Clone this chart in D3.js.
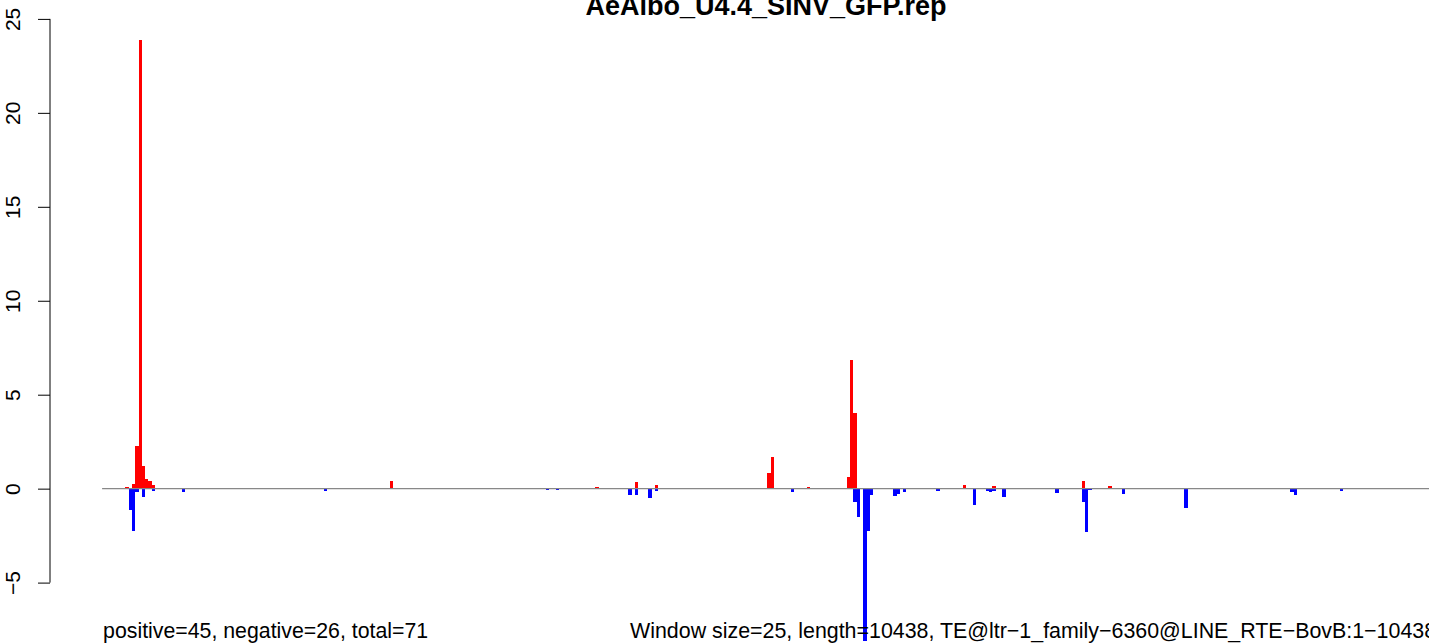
<!DOCTYPE html>
<meta charset="utf-8">
<script src="https://cdn.jsdelivr.net/npm/d3@7"></script>
<style>
body { margin: 0; background: #fff; }
text { font-family: "Liberation Sans", Arial, Helvetica, sans-serif; fill: #000; }
</style>
<body>
<script>

var width = 1429
var height = 643

var title = "AeAlbo_U4.4_SINV_GFP.rep"
var windowSize = 25
var teLength = 10438
var footLeft = "positive=45, negative=26, total=71"
var footRight = "Window size=25, length=10438, TE@ltr\u22121_family\u22126360@LINE_RTE\u2212BovB:1\u221210438"

var yTicks = [-5, 0, 5, 10, 15, 20, 25]

// window index of each bar, and its value (sense = red, antisense = blue)
var posWin = [7, 9, 10, 11, 12, 13, 14, 15, 87, 135, 140, 149, 161, 167, 201, 202, 203, 212, 213, 225, 226, 227, 260, 269, 296, 300, 304]
var posVal = [0.1, 0.27, 2.27, 23.9, 1.22, 0.5, 0.4, 0.2, 0.41, 0.05, 0.05, 0.09, 0.35, 0.2, 0.85, 1.7, 0.05, 0.05, 0.1, 0.6, 6.83, 4.02, 0.2, 0.15, 0.42, 0.05, 0.16]

var negWin = [8, 9, 10, 12, 15, 24, 67, 134, 137, 159, 161, 165, 167, 208, 227, 228, 230, 231, 232, 239, 240, 242, 252, 263, 267, 268, 269, 272, 288, 296, 297, 298, 308, 327, 359, 360, 374]
var negVal = [-1.12, -2.24, -0.16, -0.43, -0.1, -0.16, -0.14, -0.05, -0.05, -0.34, -0.34, -0.5, -0.12, -0.2, -0.71, -1.5, -8.1, -2.27, -0.34, -0.39, -0.28, -0.16, -0.12, -0.85, -0.1, -0.18, -0.1, -0.43, -0.21, -0.71, -2.3, -0.05, -0.28, -1.01, -0.2, -0.32, -0.1]

var nWin = Math.ceil(teLength / windowSize)

var svg = d3.select("body").append("svg")
            .attr("width", width)
            .attr("height", height)
            .style("display", "block")

// scales
var x = d3.scaleLinear().domain([0, nWin * windowSize]).range([102.1, 102.1 + nWin * 3.31])
var y = d3.scaleLinear().domain([-5, 25]).range([582.6, 18.9])
var barW = x(windowSize) - x(0)

function bars(wins, vals, colour) {
  svg.append("g")
     .selectAll("rect")
     .data(d3.zip(wins, vals))
     .join("rect")
     .attr("x", d => x(d[0] * windowSize))
     .attr("width", barW)
     .attr("y", d => y(Math.max(0, d[1])))
     .attr("height", d => Math.abs(y(d[1]) - y(0)))
     .attr("fill", colour)
     .attr("shape-rendering", "crispEdges")
}

bars(posWin, posVal, "#ff0000")
bars(negWin, negVal, "#0000ff")

// zero line
svg.append("line")
   .attr("x1", x(0))
   .attr("x2", x(nWin * windowSize))
   .attr("y1", y(0))
   .attr("y2", y(0))
   .style("stroke", "#888")
   .style("stroke-width", 1.4)

// y axis, R style
var axis = svg.append("g")
              .attr("transform", "translate(50,0)")
              .call(d3.axisLeft(y).tickValues(yTicks).tickSize(12).tickFormat(d => d < 0 ? "\u2212" + (-d) : d))
axis.select(".domain").attr("d", "M0," + y(-5) + "V" + y(25)).style("stroke", "#000").style("stroke-width", 1)
axis.selectAll(".tick line").style("stroke", "#000").style("stroke-width", 1)
axis.selectAll(".tick text")
    .attr("x", null).attr("dy", null)
    .style("font-size", "21px")
    .style("font-family", "'Liberation Sans', Arial, sans-serif")
    .style("fill", "#000")
    .attr("text-anchor", "middle")
    .attr("transform", "translate(-30,0) rotate(-90)")

// title
svg.append("text")
   .attr("x", 766)
   .attr("y", 15)
   .style("font-size", "27px")
   .style("font-weight", "bold")
   .attr("text-anchor", "middle")
   .text(title)

// footers
svg.append("text")
   .attr("x", x(0) + 1)
   .attr("y", 638)
   .style("font-size", "21.3px")
   .text(footLeft)

svg.append("text")
   .attr("x", 630)
   .attr("y", 638)
   .style("font-size", "21.4px")
   .text(footRight)

</script>
</body>
